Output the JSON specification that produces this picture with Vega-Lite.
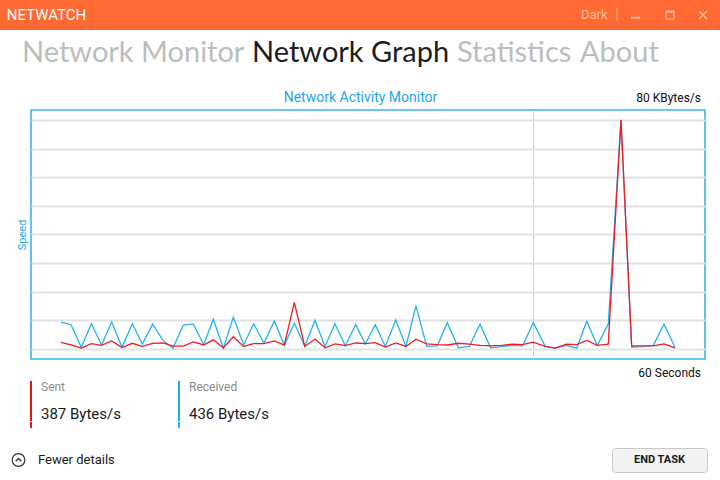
{
  "$schema": "https://vega.github.io/schema/vega-lite/v6.json",
  "padding": 0,
  "background": "#ffffff",
  "spacing": 0,
  "bounds": "full",
  "config": {
    "view": {"stroke": null},
    "text": {"font": "Roboto"},
    "point": {"opacity": 1}
  },
  "vconcat": [
    {
      "spacing": 0,
      "bounds": "flush",
      "hconcat": [
        {"width": 93, "height": 30, "view": {"fill": "#ff6933"}, "data": {"values": [{"label": "NETWATCH"}]},
         "mark": {"type": "text", "align": "center", "baseline": "middle", "fontSize": 15, "color": "#ffffff"},
         "encoding": {"text": {"field": "label"}}},
        {"width": 460, "height": 30, "view": {"fill": "#ff6933"}, "data": {"values": []}, "mark": "text"},
        {"width": 56, "height": 30, "view": {"fill": "#ff6933"}, "data": {"values": [{"label": "Dark"}]},
         "mark": {"type": "text", "align": "left", "baseline": "middle", "fontSize": 13, "color": "#ffb996"},
         "encoding": {"text": {"field": "label"}}},
        {"width": 16, "height": 30, "view": {"fill": "#ff6933"}, "data": {"values": [{"icon": "separator"}]},
         "mark": {"type": "point", "shape": "M0,-1V1", "size": 180, "filled": false, "color": "#ffb996", "strokeWidth": 1},
         "encoding": {}},
        {"width": 21, "height": 30, "view": {"fill": "#ff6933"}, "data": {"values": [{"icon": "minimize"}]},
         "mark": {"type": "point", "shape": "M-1,0.6H1", "size": 81, "filled": false, "color": "#ffb996", "strokeWidth": 2},
         "encoding": {}},
        {"width": 48, "height": 30, "view": {"fill": "#ff6933"}, "data": {"values": [{"icon": "maximize"}]},
         "mark": {"type": "point", "shape": "M-1,-1H1V1H-1ZM-1,-0.7H1", "size": 64, "filled": false, "color": "#ffb996", "strokeWidth": 1.2},
         "encoding": {}},
        {"width": 18, "height": 30, "view": {"fill": "#ff6933"}, "data": {"values": [{"icon": "close"}]},
         "mark": {"type": "point", "shape": "M-1,-1L1,1M1,-1L-1,1", "size": 64, "filled": false, "color": "#ffb996", "strokeWidth": 1.3},
         "encoding": {}},
        {"width": 8, "height": 30, "view": {"fill": "#ff6933"}, "data": {"values": []}, "mark": "text"}
      ]
    },
    {
      "spacing": 0,
      "bounds": "flush",
      "hconcat": [
        {"width": 44, "height": 46, "data": {"values": [{"label": "Network Monitor"}]},
         "mark": {"type": "text", "align": "left", "baseline": "middle", "font": "Lato", "fontSize": 29, "color": "#bdbdbd"},
         "encoding": {"text": {"field": "label"}}},
        {"width": 202, "height": 46, "data": {"values": []}, "mark": "text"},
        {"width": 12, "height": 46, "data": {"values": [{"label": "Network Graph"}]},
         "mark": {"type": "text", "align": "left", "baseline": "middle", "font": "Lato", "fontSize": 29, "color": "#1e1e1e"},
         "encoding": {"text": {"field": "label"}}},
        {"width": 194, "height": 46, "data": {"values": []}, "mark": "text"},
        {"width": 10, "height": 46, "data": {"values": [{"label": "Statistics"}]},
         "mark": {"type": "text", "align": "left", "baseline": "middle", "font": "Lato", "fontSize": 29, "color": "#bdbdbd"},
         "encoding": {"text": {"field": "label"}}},
        {"width": 112, "height": 46, "data": {"values": []}, "mark": "text"},
        {"width": 12, "height": 46, "data": {"values": [{"label": "About"}]},
         "mark": {"type": "text", "align": "left", "baseline": "middle", "font": "Lato", "fontSize": 29, "color": "#bdbdbd"},
         "encoding": {"text": {"field": "label"}}},
        {"width": 134, "height": 46, "data": {"values": []}, "mark": "text"}
      ]
    },
    {"width": 720, "height": 10, "data": {"values": []}, "mark": "text"},
    {
      "spacing": 0,
      "bounds": "flush",
      "hconcat": [
        {"width": 300, "height": 23, "data": {"values": []}, "mark": "text"},
        {"width": 121, "height": 23, "data": {"values": [{"label": "Network Activity Monitor"}]},
         "mark": {"type": "text", "align": "center", "baseline": "middle", "fontSize": 14, "color": "#28a5e8"},
         "encoding": {"text": {"field": "label"}}},
        {"width": 270, "height": 23, "data": {"values": []}, "mark": "text"},
        {"width": 20, "height": 23, "data": {"values": [{"label": "80 KBytes/s"}]},
         "mark": {"type": "text", "align": "right", "baseline": "middle", "fontSize": 12, "color": "#111111"},
         "encoding": {"text": {"field": "label"}}},
        {"width": 9, "height": 23, "data": {"values": []}, "mark": "text"}
      ]
    },
    {
      "spacing": 0,
      "bounds": "flush",
      "hconcat": [
        {"width": 31, "height": 249, "data": {"values": []}, "mark": "text"},
        {
          "width": 674,
          "height": 249,
          "view": {"stroke": "#3cb2ee", "strokeWidth": 1.6},
          "data": {
            "values": [
              {"t": 2.67, "received": 9.3, "sent": 2.2},
              {"t": 3.56, "received": 8.4, "sent": 1.3},
              {"t": 4.48, "received": 0.5, "sent": 0.2},
              {"t": 5.37, "received": 8.7, "sent": 1.8},
              {"t": 6.29, "received": 1.3, "sent": 1.2},
              {"t": 7.18, "received": 9.4, "sent": 2.7},
              {"t": 8.10, "received": 0.5, "sent": 0.4},
              {"t": 9.02, "received": 8.7, "sent": 1.9},
              {"t": 9.91, "received": 1.6, "sent": 0.8},
              {"t": 10.83, "received": 8.6, "sent": 1.9},
              {"t": 11.75, "received": 2.9, "sent": 2.0},
              {"t": 12.64, "received": 0.2, "sent": 0.9},
              {"t": 13.56, "received": 8.3, "sent": 0.9},
              {"t": 14.45, "received": 8.7, "sent": 2.4},
              {"t": 15.37, "received": 1.4, "sent": 1.3},
              {"t": 16.23, "received": 10.3, "sent": 3.1},
              {"t": 17.12, "received": 0.2, "sent": 0.3},
              {"t": 18.01, "received": 11.0, "sent": 4.2},
              {"t": 18.93, "received": 1.4, "sent": 0.8},
              {"t": 19.82, "received": 8.7, "sent": 1.8},
              {"t": 20.74, "received": 2.0, "sent": 1.8},
              {"t": 21.66, "received": 9.7, "sent": 2.7},
              {"t": 22.55, "received": 1.2, "sent": 1.3},
              {"t": 23.44, "received": 9.0, "sent": 16.2},
              {"t": 24.37, "received": 0.8, "sent": 0.8},
              {"t": 25.28, "received": 9.9, "sent": 3.4},
              {"t": 26.17, "received": 0.8, "sent": 0.3},
              {"t": 27.06, "received": 8.7, "sent": 1.7},
              {"t": 27.98, "received": 1.0, "sent": 1.1},
              {"t": 28.91, "received": 8.5, "sent": 2.0},
              {"t": 29.76, "received": 1.6, "sent": 1.8},
              {"t": 30.65, "received": 8.4, "sent": 2.1},
              {"t": 31.54, "received": 0.8, "sent": 0.6},
              {"t": 32.47, "received": 10.0, "sent": 2.0},
              {"t": 33.38, "received": 0.8, "sent": 0.8},
              {"t": 34.27, "received": 15.1, "sent": 3.3},
              {"t": 35.23, "received": 0.8, "sent": 1.7},
              {"t": 36.17, "received": 1.0, "sent": 1.4},
              {"t": 37.06, "received": 9.1, "sent": 1.3},
              {"t": 38.04, "received": 0.3, "sent": 1.9},
              {"t": 39.02, "received": 0.8, "sent": 1.6},
              {"t": 39.97, "received": 8.6, "sent": 1.2},
              {"t": 40.92, "received": 0.3, "sent": 1.0},
              {"t": 41.90, "received": 0.7, "sent": 1.2},
              {"t": 42.79, "received": 1.2, "sent": 1.6},
              {"t": 43.77, "received": 1.0, "sent": 1.4},
              {"t": 44.71, "received": 9.2, "sent": 2.3},
              {"t": 45.76, "received": 0.9, "sent": 0.8},
              {"t": 46.65, "received": 0.2, "sent": 0.2},
              {"t": 47.69, "received": 1.2, "sent": 1.6},
              {"t": 48.58, "received": 0.2, "sent": 1.4},
              {"t": 49.47, "received": 9.6, "sent": 2.9},
              {"t": 50.41, "received": 1.1, "sent": 1.2},
              {"t": 51.39, "received": 8.6, "sent": 1.6},
              {"t": 52.52, "received": 80.0, "sent": 80.0},
              {"t": 53.47, "received": 0.6, "sent": 1.0},
              {"t": 54.45, "received": 0.7, "sent": 1.0},
              {"t": 55.40, "received": 1.2, "sent": 1.0},
              {"t": 56.35, "received": 8.6, "sent": 1.7},
              {"t": 57.33, "received": 0.5, "sent": 0.3}
            ]
          },
          "encoding": {
            "x": {
              "field": "t",
              "type": "quantitative",
              "scale": {"domain": [0, 60], "nice": false, "zero": false},
              "axis": {
                "values": [44.71],
                "grid": true,
                "gridColor": "#d0d0d0",
                "gridWidth": 1,
                "labels": false,
                "ticks": false,
                "domain": false,
                "title": null
              }
            }
          },
          "layer": [
            {
              "mark": {"type": "line", "color": "#22b3f0", "strokeWidth": 1.3},
              "encoding": {
                "y": {
                  "field": "received",
                  "type": "quantitative",
                  "scale": {"domain": [-3.6, 83.5], "nice": false, "zero": false},
                  "axis": {
                    "values": [0, 10, 20, 30, 40, 50, 60, 70, 80],
                    "grid": true,
                    "gridColor": "#e2e2e2",
                    "gridWidth": 2,
                    "labels": false,
                    "ticks": false,
                    "domain": false,
                    "title": "Speed",
                    "titleFont": "Roboto",
                    "titleColor": "#28a5e8",
                    "titleFontSize": 11,
                    "titleFontWeight": "normal",
                    "titlePadding": 4
                  }
                }
              }
            },
            {
              "mark": {"type": "line", "color": "#f01c22", "strokeWidth": 1.3},
              "encoding": {
                "y": {
                  "field": "sent",
                  "type": "quantitative",
                  "scale": {"domain": [-3.6, 83.5], "nice": false, "zero": false},
                  "axis": {
                    "values": [0, 10, 20, 30, 40, 50, 60, 70, 80],
                    "grid": true,
                    "gridColor": "#e2e2e2",
                    "gridWidth": 2,
                    "labels": false,
                    "ticks": false,
                    "domain": false,
                    "title": "Speed",
                    "titleFont": "Roboto",
                    "titleColor": "#28a5e8",
                    "titleFontSize": 11,
                    "titleFontWeight": "normal",
                    "titlePadding": 4
                  }
                }
              }
            }
          ]
        },
        {"width": 15, "height": 249, "data": {"values": []}, "mark": "text"}
      ]
    },
    {"width": 720, "height": 5, "data": {"values": []}, "mark": "text"},
    {
      "spacing": 0,
      "bounds": "flush",
      "hconcat": [
        {"width": 691, "height": 16, "data": {"values": []}, "mark": "text"},
        {"width": 20, "height": 16, "data": {"values": [{"label": "60 Seconds"}]},
         "mark": {"type": "text", "align": "right", "baseline": "middle", "fontSize": 12, "color": "#111111"},
         "encoding": {"text": {"field": "label"}}},
        {"width": 9, "height": 16, "data": {"values": []}, "mark": "text"}
      ]
    },
    {
      "spacing": 0,
      "bounds": "flush",
      "hconcat": [
        {"width": 30, "height": 12, "data": {"values": []}, "mark": "text"},
        {"width": 2, "height": 12, "view": {"fill": "#e8101a"}, "data": {"values": []}, "mark": "text"},
        {"width": 18, "height": 12, "data": {"values": [{"label": "Sent"}]},
         "mark": {"type": "text", "align": "left", "baseline": "middle", "fontSize": 12, "color": "#8c8c8c"},
         "encoding": {"text": {"field": "label"}}},
        {"width": 128, "height": 12, "data": {"values": []}, "mark": "text"},
        {"width": 2, "height": 12, "view": {"fill": "#1aaff0"}, "data": {"values": []}, "mark": "text"},
        {"width": 18, "height": 12, "data": {"values": [{"label": "Received"}]},
         "mark": {"type": "text", "align": "left", "baseline": "middle", "fontSize": 12, "color": "#8c8c8c"},
         "encoding": {"text": {"field": "label"}}},
        {"width": 522, "height": 12, "data": {"values": []}, "mark": "text"}
      ]
    },
    {
      "spacing": 0,
      "bounds": "flush",
      "hconcat": [
        {"width": 30, "height": 13, "data": {"values": []}, "mark": "text"},
        {"width": 2, "height": 13, "view": {"fill": "#e8101a"}, "data": {"values": []}, "mark": "text"},
        {"width": 146, "height": 13, "data": {"values": []}, "mark": "text"},
        {"width": 2, "height": 13, "view": {"fill": "#1aaff0"}, "data": {"values": []}, "mark": "text"},
        {"width": 540, "height": 13, "data": {"values": []}, "mark": "text"}
      ]
    },
    {
      "spacing": 0,
      "bounds": "flush",
      "hconcat": [
        {"width": 30, "height": 15, "data": {"values": []}, "mark": "text"},
        {"width": 2, "height": 15, "view": {"fill": "#e8101a"}, "data": {"values": []}, "mark": "text"},
        {"width": 18, "height": 15, "data": {"values": [{"label": "387 Bytes/s"}]},
         "mark": {"type": "text", "align": "left", "baseline": "middle", "fontSize": 15, "color": "#1a1a1a"},
         "encoding": {"text": {"field": "label"}}},
        {"width": 128, "height": 15, "data": {"values": []}, "mark": "text"},
        {"width": 2, "height": 15, "view": {"fill": "#1aaff0"}, "data": {"values": []}, "mark": "text"},
        {"width": 18, "height": 15, "data": {"values": [{"label": "436 Bytes/s"}]},
         "mark": {"type": "text", "align": "left", "baseline": "middle", "fontSize": 15, "color": "#1a1a1a"},
         "encoding": {"text": {"field": "label"}}},
        {"width": 522, "height": 15, "data": {"values": []}, "mark": "text"}
      ]
    },
    {
      "spacing": 0,
      "bounds": "flush",
      "hconcat": [
        {"width": 30, "height": 6, "data": {"values": []}, "mark": "text"},
        {"width": 2, "height": 6, "view": {"fill": "#e8101a"}, "data": {"values": []}, "mark": "text"},
        {"width": 146, "height": 6, "data": {"values": []}, "mark": "text"},
        {"width": 2, "height": 6, "view": {"fill": "#1aaff0"}, "data": {"values": []}, "mark": "text"},
        {"width": 540, "height": 6, "data": {"values": []}, "mark": "text"}
      ]
    },
    {"width": 720, "height": 19, "data": {"values": []}, "mark": "text"},
    {
      "spacing": 0,
      "bounds": "flush",
      "hconcat": [
        {
          "width": 37,
          "height": 24,
          "data": {"values": [{"icon": "chevron-up"}]},
          "layer": [
            {"mark": {"type": "point", "shape": "circle", "size": 160, "filled": false, "color": "#333333", "strokeWidth": 1.2}, "encoding": {}},
            {"mark": {"type": "point", "shape": "M-0.45,0.2L0,-0.25L0.45,0.2", "size": 160, "filled": false, "color": "#333333", "strokeWidth": 1.4}, "encoding": {}}
          ]
        },
        {"width": 2, "height": 24, "data": {"values": [{"label": "Fewer details"}]},
         "mark": {"type": "text", "align": "left", "baseline": "middle", "fontSize": 13, "color": "#1a1a1a"},
         "encoding": {"text": {"field": "label"}}},
        {"width": 573, "height": 24, "data": {"values": []}, "mark": "text"},
        {"width": 95, "height": 24, "view": {"fill": "#f3f3f3", "stroke": "#c8c8c8", "strokeWidth": 1, "cornerRadius": 3},
         "data": {"values": [{"label": "END TASK"}]},
         "mark": {"type": "text", "align": "center", "baseline": "middle", "fontSize": 11, "fontWeight": "bold", "color": "#1a1a1a"},
         "encoding": {"text": {"field": "label"}}},
        {"width": 13, "height": 24, "data": {"values": []}, "mark": "text"}
      ]
    }
  ]
}
